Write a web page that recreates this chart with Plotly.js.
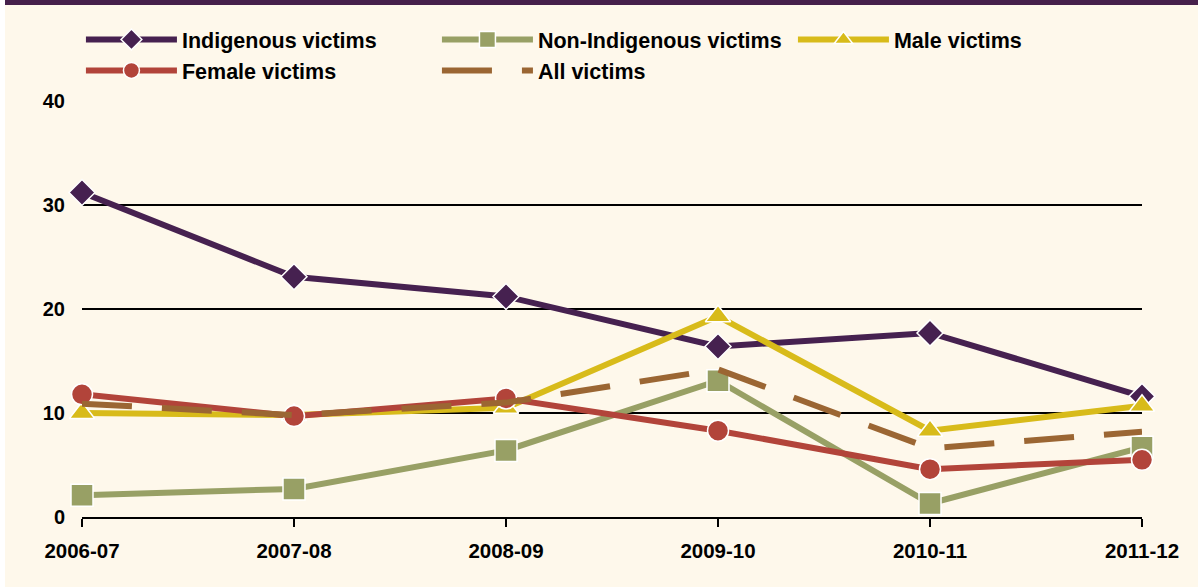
<!DOCTYPE html>
<html>
<head>
<meta charset="utf-8">
<script src="https://cdn.plot.ly/plotly-3.0.1.min.js"></script>
<style>html,body{margin:0;padding:0;background:#fff;}#chart{width:1198px;height:587px;}</style>
</head>
<body>
<div id="chart"></div>
<script>
const years = ["2006-07", "2007-08", "2008-09", "2009-10", "2010-11", "2011-12"];
const indigenous = [31.2, 23.1, 21.2, 16.4, 17.7, 11.6];
const nonIndigenous = [2.1, 2.7, 6.4, 13.1, 1.3, 6.7];
const male = [10.0, 9.8, 10.5, 19.3, 8.3, 10.7];
const female = [11.8, 9.7, 11.4, 8.3, 4.6, 5.5];
const allVictims = [10.9, 9.8, 11.0, 14.2, 6.6, 8.2];
const yTicks = [0, 10, 20, 30, 40];

const W = 1198, H = 587;
const L = 82, R = 56, T = 101, B = 70;
const pw = W - L - R, ph = H - T - B;
const px = v => (v - L) / pw;
const py = v => (H - B - v) / ph;

const mk = (name, y, color, symbol, size, dash) => ({
  type: 'scatter', mode: dash ? 'lines' : 'lines+markers', name: name,
  x: years, y: y, cliponaxis: false,
  line: {color: color, width: 6, dash: dash || 'solid'},
  marker: {symbol: symbol, size: size, color: color, line: {color: '#ffffff', width: 1.5}}
});

const traces = [
  mk('Indigenous victims', indigenous, '#462150', 'diamond', 20),
  mk('Non-Indigenous victims', nonIndigenous, '#98a065', 'square', 22),
  mk('Male victims', male, '#d8bb1a', 'triangle-up', 22),
  mk('Female victims', female, '#b2443a', 'circle', 21),
  mk('All victims', allVictims, '#9b6633', null, 0, '50px,30px')
];

const layout = {
  width: W, height: H,
  margin: {l: L, r: R, t: T, b: B, pad: 0, autoexpand: false},
  paper_bgcolor: '#ffffff',
  plot_bgcolor: 'rgba(0,0,0,0)',
  font: {family: 'Liberation Sans, Arial, sans-serif', color: '#000000', size: 20, weight: 'bold'},
  showlegend: true,
  legend: {
    orientation: 'h', x: -0.001, xanchor: 'left', y: py(19), yanchor: 'top',
    bgcolor: 'rgba(0,0,0,0)', borderwidth: 0,
    font: {family: 'Liberation Sans, Arial, sans-serif', size: 21.5, weight: 'bold', color: '#000'},
    itemwidth: 91,
    entrywidthmode: 'pixels', entrywidth: 250, traceorder: 'normal'
  },
  xaxis: {
    type: 'category', range: [0, 5], fixedrange: true,
    showgrid: false, zeroline: false,
    showline: true, linecolor: '#000', linewidth: 2,
    ticks: 'outside', ticklen: 8, tickwidth: 2, tickcolor: '#000',
    ticklabelstandoff: 6,
    tickfont: {family: 'Liberation Sans, Arial, sans-serif', size: 20.5, weight: 'bold'}
  },
  yaxis: {
    range: [0, 40], tickvals: yTicks, fixedrange: true,
    showgrid: true, gridcolor: '#000', gridwidth: 2,
    zeroline: false, showline: false, ticks: '',
    ticklabelstandoff: 16,
    tickfont: {family: 'Liberation Sans, Arial, sans-serif', size: 20, weight: 'bold'}
  },
  shapes: [
    {type: 'rect', xref: 'paper', yref: 'paper', layer: 'below',
     x0: px(5), x1: px(W + 2), y0: py(H + 2), y1: py(5),
     fillcolor: '#fef8eb', line: {width: 0}},
    {type: 'rect', xref: 'paper', yref: 'paper', layer: 'below',
     x0: px(5), x1: px(W + 2), y0: py(5), y1: py(-2),
     fillcolor: '#46204b', line: {width: 0}}
  ]
};

Plotly.newPlot('chart', traces, layout, {displayModeBar: false, staticPlot: true});
</script>
</body>
</html>
